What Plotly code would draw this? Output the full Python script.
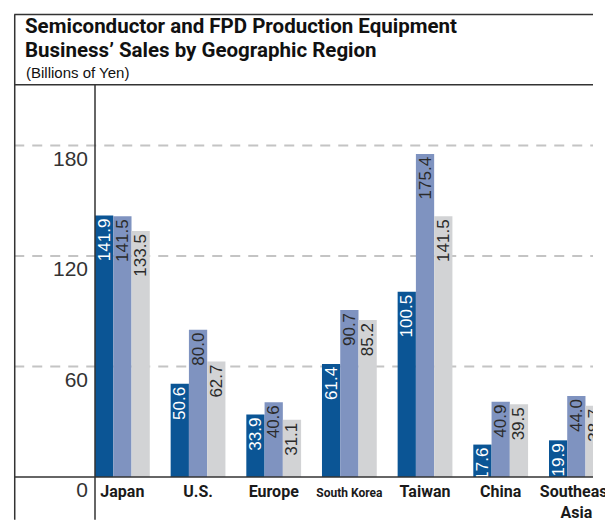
"""Semiconductor and FPD production equipment sales by region"""

import plotly.graph_objects as go

# data
regions = ["Japan", "U.S.", "Europe", "South Korea", "Taiwan", "China", "Southeast Asia"]
region_labels = [
    "Japan",
    "U.S.",
    "Europe",
    "<span style='font-size:12px'>South Korea</span>",
    "Taiwan",
    "China",
    "Southeast<br>Asia",
]
sales_a = [141.9, 50.6, 33.9, 61.4, 100.5, 17.6, 19.9]
sales_b = [141.5, 80.0, 40.6, 90.7, 175.4, 40.9, 44.0]
sales_c = [133.5, 62.7, 31.1, 85.2, 141.5, 39.5, 38.7]
y_ticks = [0, 60, 120, 180]

# screen geometry (px). The page body keeps its default 8px margin, so the
# figure is drawn 8px smaller and everything below is given in screen pixels.
W, H = 613, 522
BODY = 8
PL, PR, PT, PB = 95, 613, 14, 479
Y_PER_PX = 180 / (479 - 146)  # 180 gridline sits at y=146px


def px(x):
    return (x - PL) / (PR - PL)


def py(y):
    return (PB - y) / (PB - PT)


NUM_FONT = "Liberation Sans, Arial, sans-serif"
BOLD_FONT = "Roboto, Liberation Sans, sans-serif"
INK = "#2b2b2b"

series = [
    (sales_a, "#0b5595", "white"),
    (sales_b, "#7f93c0", INK),
    (sales_c, "#d2d3d5", INK),
]

fig = go.Figure()
for values, color, text_color in series:
    fig.add_trace(
        go.Bar(
            x=regions,
            y=values,
            marker_color=color,
            marker_line_width=0,
            texttemplate="%{y:.1f}",
            textposition="inside",
            insidetextanchor="end",
            textangle=-90,
            textfont=dict(family=NUM_FONT, size=17, color=text_color),
            showlegend=False,
            hoverinfo="skip",
        )
    )

shapes = []
# dashed gridlines, behind bars
for v in y_ticks[1:]:
    shapes.append(
        dict(
            type="line", xref="paper", yref="y",
            x0=px(11), x1=1, y0=v, y1=v,
            line=dict(color="#c4c4c4", width=2, dash="10px,8px"),
            layer="below",
        )
    )
# frame lines
frame = [
    (11.5, 14.5, 11.5, H),  # outer left
    (11, 14.5, W, 14.5),    # outer top
    (11, 85, W, 85),        # under header
    (95, 85, 95, H),        # y axis
    (11, 479, W, 479),      # baseline
]
for x0, y0, x1, y1 in frame:
    shapes.append(
        dict(
            type="line", xref="paper", yref="paper",
            x0=px(x0), x1=px(x1), y0=py(y0), y1=py(y1),
            line=dict(color="#333333", width=1.5),
            layer="above",
        )
    )

header = [
    ("Semiconductor and FPD Production Equipment", 26, 20.5, "bold"),
    ("Business’ Sales by Geographic Region", 50, 20.5, "bold"),
    ("(Billions of Yen)", 73, 15, "normal"),
]
annotations = []
for text, y_mid, size, weight in header:
    annotations.append(
        dict(
            text=text,
            xref="paper", yref="paper", x=px(20 if weight == "bold" else 21), y=py(y_mid),
            xanchor="left", yanchor="middle", align="left", showarrow=False,
            font=dict(
                family=BOLD_FONT if weight == "bold" else NUM_FONT,
                size=size, weight=weight, color="#111111",
            ),
        )
    )

fig.update_layout(
    width=W - BODY,
    height=H - BODY,
    margin=dict(l=PL - BODY, r=W - PR, t=PT - BODY, b=H - PB, pad=0),
    paper_bgcolor="white",
    plot_bgcolor="rgba(0,0,0,0)",
    barmode="group",
    bargap=0.276,
    bargroupgap=0,
    uniformtext=dict(minsize=17, mode="show"),
    shapes=shapes,
    annotations=annotations,
    xaxis=dict(
        range=[-0.362, 6.22],
        tickmode="array",
        tickvals=regions,
        ticktext=region_labels,
        ticks="",
        showline=False,
        showgrid=False,
        zeroline=False,
        ticklabelstandoff=3,
        tickfont=dict(family=BOLD_FONT, size=16, weight="bold", color="#1a1a1a"),
    ),
    yaxis=dict(
        range=[0, (PB - PT) * Y_PER_PX],
        tickvals=y_ticks,
        ticks="",
        showline=False,
        showgrid=False,
        zeroline=False,
        ticklabelshift=13,
        ticklabelstandoff=6,
        tickfont=dict(family=NUM_FONT, size=21, color="#333333"),
    ),
)

fig.write_html("out.html", config={"displayModeBar": False})
